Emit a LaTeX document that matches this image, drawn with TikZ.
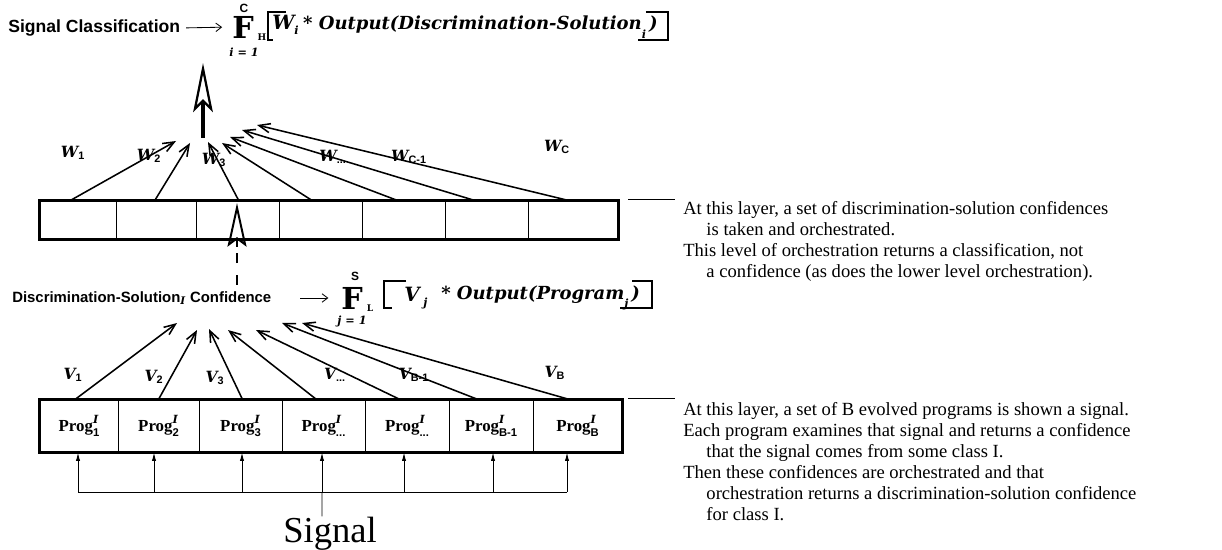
\documentclass[tikz,border=0pt]{standalone}
\usepackage{amsmath}
\usepackage{fontspec}
\setmainfont{Liberation Serif}
\setsansfont{Liberation Sans}
\newfontfamily\cent{DejaVu Serif}
\usetikzlibrary{arrows.meta}

\newcommand{\wgt}[2]{{\cent\bfseries\itshape #1}\textsubscript{\sffamily\bfseries #2}}
\newcommand{\prog}[1]{\textbf{Prog}\rlap{\raisebox{5.5pt}{\footnotesize\cent\bfseries\itshape I}}\raisebox{-3.5pt}{\footnotesize\sffamily\bfseries #1}}
\newcommand{\etc}{...}

\begin{document}
\begin{tikzpicture}[x=0.025cm,y=-0.025cm]
\tikzstyle{every node}+=[inner sep=0pt]
\tikzstyle{cell}=[draw, line width=0.7pt, minimum height=0.97cm]
\tikzstyle{progcell}=[draw, line width=0.7pt, minimum height=1.3cm, font=\fontsize{12}{14}\selectfont]
\tikzstyle{rim}=[line width=2.2pt]
\tikzstyle{wt}=[line width=1.1pt, -{Straight Barb[length=8pt,width=6.5pt]}]
\tikzstyle{sigin}=[line width=0.6pt, -{Latex[length=6pt,width=3pt]}]
\tikzstyle{hd}=[font=\sffamily\bfseries\fontsize{12.5}{14}\selectfont]
\tikzstyle{note}=[anchor=north west, align=left, font=\fontsize{13.2}{14.9}\selectfont]
\tikzstyle{lbl}=[font=\fontsize{11}{13}\selectfont]
\tikzstyle{form}=[anchor=west, font=\cent\bfseries\itshape\fontsize{12.8}{14}\selectfont]
\tikzstyle{bigF}=[font=\cent\bfseries\fontsize{21.5}{24}\selectfont]
\tikzstyle{limsf}=[font=\sffamily\bfseries\fontsize{8.5}{10}\selectfont]
\tikzstyle{limit}=[font=\cent\bfseries\itshape\fontsize{8}{10}\selectfont]
\tikzstyle{fsub}=[font=\cent\bfseries\fontsize{6.5}{8}\selectfont]
\tikzstyle{brk}=[line width=1.2pt]
\tikzstyle{txtarrow}=[line width=0.6pt, -{Straight Barb[length=4pt,width=6pt]}]
\tikzstyle{bigup}=[line width=2.4pt, -{Stealth[open, length=35pt, width=14pt, inset=7pt, line width=1.6pt]}]
\tikzstyle{dashshaft}=[line width=1.6pt, dash pattern=on 7.1pt off 8.5pt]
\tikzstyle{smallup}=[line width=1.6pt, -{Stealth[open, length=31pt, width=13.5pt, inset=5pt, line width=1.4pt]}]
\useasboundingbox (0,0) rectangle (1222,550);

% top formula
\node[hd, anchor=west] (sc) at (8,28) {Signal Classification};
\node[bigF] (fh) at (243,27) {F};
\node[limsf] (fhc) at (244,8) {C};
\node[limit] (fhi) at (244,52) {i = 1};
\node[fsub] (fhs) at (262,37) {H};
\draw[txtarrow] (sc.east) -- (fh.west) [shorten <=4pt, shorten >=7pt];
\draw[brk] (286,12) -- (268,12) -- (268,40) -- (273,40);
\node[form] (fhbody) at (272,27) {{\fontsize{14}{14}\selectfont W}\raisebox{-3pt}{\footnotesize i}\hspace{0.25em}* Output(Discrimination-Solution\raisebox{-6pt}{\footnotesize i}\,)};
\draw[brk] ([xshift=-0.3cm]fhbody.east |- 0,12) -- ([xshift=0.25cm]fhbody.east |- 0,12) -- ([xshift=0.25cm]fhbody.east |- 0,40) -- ([xshift=-0.5cm]fhbody.east |- 0,40);

% upper layer
\foreach \l/\r [count=\i] in {40/116,116/196,196/279,279/362,362/445,445/528,528/618}
  \node[cell, minimum width={(\r-\l)*0.025cm}] (u\i) at ({(\l+\r)/2},220) {};
\draw[rim] (u1.north west) rectangle (u7.south east);

\foreach \dx/\tx/\ty [count=\i] in {-7/176/141,-1/190/143,1/208/142,-9/222/143,-7/230/137,-13/242/130,-6/257/125}
{
  \coordinate (wt\i) at (\tx,\ty);
  \draw[wt] ([xshift=\dx*0.025cm]u\i.north) -- (wt\i);
}
\node[lbl] (w1) at (73,153) {\wgt{W}{1}};
\node[lbl] (w2) at (149,156) {\wgt{W}{2}};
\node[lbl] (w3) at (214,160) {\wgt{W}{3}};
\node[lbl] (w4) at (333,157) {\wgt{W}{\etc}};
\node[lbl] (w5) at (409,157) {\wgt{W}{C-1}};
\node[lbl] (w7) at (557,147) {\wgt{W}{C}};

\coordinate (hubw) at (203,138);
\coordinate (topin) at (203,63);
\draw[bigup] (hubw) -- (topin);

% lower formula
\node[hd, anchor=west, font=\sffamily\bfseries\fontsize{10.6}{12}\selectfont] (dsc) at (12,298) {Discrimination-Solution\textsubscript{\cent\itshape I} Confidence};
\node[bigF] (fl) at (352,298) {F};
\node[limsf] (flc) at (355,276) {S};
\node[limit] (flj) at (352,321) {j = 1};
\node[fsub] (fls) at (370,308) {L};
\draw[txtarrow] ([xshift=0.72cm]dsc.east) -- (fl.west) [shorten >=9pt];
\draw[brk] (406,281) -- (384,281) -- (384,308) -- (392,308);
\node[form] (flv) at (404,298) {{\fontsize{14}{14}\selectfont V}\raisebox{-4pt}{\footnotesize\ j}};
\node[form] (flbody) at (441,298) {* Output(Program\raisebox{-6pt}{\footnotesize j}\,)};
\draw[brk] ([xshift=-0.2cm]flbody.east |- 0,281) -- ([xshift=0.3cm]flbody.east |- 0,281) -- ([xshift=0.3cm]flbody.east |- 0,308) -- ([xshift=-0.5cm]flbody.east |- 0,308);

% discrimination-solution confidence into its cell
\coordinate (dsup) at (237,285);
\coordinate (dstop) at (237,253);
\coordinate (u3foot) at (237,247);
\coordinate (u3in) at (237,203);
\draw[dashshaft] (dsup) -- (dstop);
\draw[smallup] (u3foot) -- (u3in);

% lower layer
\foreach \l/\r/\s [count=\i] in {40/118/1,118/199/2,199/282/3,282/365/\etc,365/449/\etc,449/533/B-1,533/622/B}
  \node[progcell, minimum width={(\r-\l)*0.025cm}] (p\i) at ({(\l+\r)/2},426) {\prog{\s}};
\draw[rim] (p1.north west) rectangle (p7.south east);

\foreach \dx/\tx/\ty [count=\i] in {-4/177/323,0/197/330,2/209/329,-7/228/330,-7/256/330,-13/282/323,-8/302/323}
{
  \coordinate (vt\i) at (\tx,\ty);
  \draw[wt] ([xshift=\dx*0.025cm]p\i.north) -- (vt\i);
}
\node[lbl] (v1) at (73,375) {\wgt{V}{1}};
\node[lbl] (v2) at (154,377) {\wgt{V}{2}};
\node[lbl] (v3) at (215,378) {\wgt{V}{3}};
\node[lbl] (v4) at (335,375) {\wgt{V}{\etc}};
\node[lbl] (v5) at (414,375) {\wgt{V}{B-1}};
\node[lbl] (v7) at (555,373) {\wgt{V}{B}};

% signal bus
\node[font=\fontsize{26}{28}\selectfont, anchor=base] (sig) at (330,542) {Signal};
\foreach \x [count=\i] in {78,154,242,322,404,493,567}
{
  \coordinate (bus\i) at (\x,492);
  \draw[sigin] (bus\i) -- (bus\i |- p\i.south);
}
\draw[line width=0.6pt] (bus1) -- (bus7);
\draw[line width=0.6pt] ([xshift=-0.2cm]sig.north) -- (bus4);

% notes
\node[note] (uptext) at (683,201) {At this layer, a set of discrimination-solution confidences\\\hspace*{0.58cm}is taken and orchestrated.\\This level of orchestration returns a classification, not\\\hspace*{0.58cm}a confidence (as does the lower level orchestration).};
\coordinate (upfoot) at (628,199);
\draw[line width=0.6pt] (upfoot) -- (upfoot -| uptext.west) [shorten >=0.2cm];
\node[note] (lowtext) at (683,402) {At this layer, a set of B evolved programs is shown a signal.\\Each program examines that signal and returns a confidence\\\hspace*{0.58cm}that the signal comes from some class I.\\Then these confidences are orchestrated and that\\\hspace*{0.58cm}orchestration returns a discrimination-solution confidence\\\hspace*{0.58cm}for class I.};
\coordinate (lowfoot) at (628,398);
\draw[line width=0.6pt] (lowfoot) -- (lowfoot -| lowtext.west) [shorten >=0.2cm];
\end{tikzpicture}
\end{document}
